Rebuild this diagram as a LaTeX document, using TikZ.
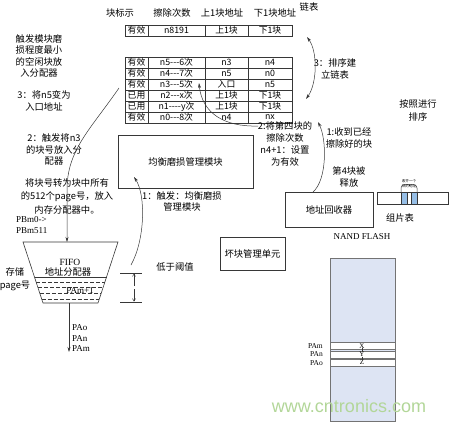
\documentclass[tikz,border=0pt]{standalone}
\usepackage{fontspec}
\setmainfont{Noto Sans CJK SC}
\newfontfamily\lat{Liberation Serif}
\newfontfamily\wmf{Liberation Sans}
\usetikzlibrary{arrows.meta}
\definecolor{ink}{RGB}{55,55,55}
\definecolor{nandblue}{RGB}{221,228,243}
\definecolor{barblue}{RGB}{150,190,230}
\definecolor{wmgreen}{RGB}{178,214,152}
\begin{document}
\begin{tikzpicture}[x=1pt,y=-1pt,
  every node/.style={inner sep=0pt, align=center, text=black},
  zh/.style={font=\fontsize{9.3}{11.5}\selectfont},
  tb/.style={font=\fontsize{8.8}{10}\selectfont},
  la/.style={font=\lat\fontsize{9}{10.5}\selectfont},
  sm/.style={font=\lat\fontsize{7}{8}\selectfont},
  ln/.style={draw=ink, line width=0.5pt},
  box/.style={draw=ink, line width=0.6pt},
  arr/.style={ln, -{Stealth[length=5pt,width=3pt]}},
  darr/.style={ln, {Stealth[length=5pt,width=3pt]}-{Stealth[length=5pt,width=3pt]}},
  sarr/.style={ln, -{Straight Barb[length=2.5pt,width=3pt]}}
]
\useasboundingbox (0,0) rectangle (450,423);

% ---- header labels
\node[zh] (h1) at (120,13) {块标示};
\node[zh] (h2) at (172,13) {擦除次数};
\node[zh] (h3) at (222,13) {上1块地址};
\node[zh] (h4) at (275,13) {下1块地址};
\node[zh] (h5) at (309,7) {链表};

% ---- tables
\draw[ln] (125,25) rectangle (292,36);
\foreach \x in {148,205,248} \draw[ln] (\x,25) -- (\x,36);
\draw[ln] (125,57) rectangle (292,123);
\foreach \y in {68,79,90,101,112} \draw[ln] (125,\y) -- (292,\y);
\foreach \x in {148,205,248} \draw[ln] (\x,57) -- (\x,123);

\foreach \y/\a/\b/\c/\d [count=\i] in {
  30.5/有效/n8191/上1块/下1块,
  62.5/有效/n5-{}-{}-6次/n3/n4,
  73.5/有效/n4-{}-{}-7次/n5/n0,
  84.5/有效/n3-{}-{}-5次/入口/n5,
  95.5/已用/n2-{}-{}-x次/上1块/下1块,
  106.5/已用/n1-{}-{}-{}-y次/上1块/下1块,
  117.5/有效/n0-{}-{}-8次/n4/nx} {
  \node[tb] (r\i-1) at (136.5,\y) {\a};
  \node[tb] (r\i-2) at (176.5,\y) {\b};
  \node[tb] (r\i-3) at (226.5,\y) {\c};
  \node[tb] (r\i-4) at (270,\y) {\d};
}

% ---- left texts
\node[zh] (t1) at (39,56) {触发模块磨\\损程度最小\\的空闲块放\\入分配器};
\node[zh] (t3) at (44,101) {3：将n5变为\\入口地址};
\node[zh] (t2) at (54,149.5) {2：触发将n3\\的块号放入分\\配器};
\node[zh, font=\fontsize{9.3}{13.5}\selectfont] (t4) at (67,196) {将块号转为块中所有\\的512个page号，放入\\内存分配器中。};
\node[la, anchor=west, align=left] (pbm) at (16,225) {PBm0->\\PBm511};
\node[zh, font=\fontsize{9.3}{13}\selectfont] (store) at (15,279) {存储\\page号};

% ---- right texts
\node[zh, font=\fontsize{9.3}{12}\selectfont] (lbl2) at (285,144) {2:将第四块的\\擦除次数\\n4+1：设置\\为有效};
\node[zh] (lbl1) at (349,138) {1:收到已经\\擦除好的块};
\node[zh, font=\fontsize{9.3}{12}\selectfont] (rel) at (349,177) {第4块被\\释放};
\node[zh] (sort3) at (335,69) {3：排序建\\立链表};
\node[zh, font=\fontsize{9.3}{13}\selectfont] (sortby) at (418,110) {按照进行\\排序};
\node[zh] (trig1) at (182,201.5) {1：触发：均衡磨损\\管理模块};
\node[zh] (low) at (175,267) {低于阈值};
\node[zh] (fraglbl) at (400,218) {组片表};
\node[la] (nandlbl) at (362,237) {NAND FLASH};

% ---- boxes
\node[box, minimum width=135pt, minimum height=53pt, zh] (bal) at (185.5,161.5) {均衡磨损管理模块};
\node[box, minimum width=65pt, minimum height=33pt, zh] (bad) at (252.5,253.5) {坏块管理单元};
\node[box, minimum width=88pt, minimum height=35pt, zh] (recv) at (329,209.5) {地址回收器};
\node[box, minimum width=71pt, minimum height=12pt] (frag) at (412.5,198) {};
\fill[barblue, draw=ink, line width=0.4pt] (401,192) rectangle (407,204);
\fill[barblue, draw=ink, line width=0.4pt] (411,192) rectangle (417,204);
\draw[ln] (401,192) -- (401,188) to[out=90,in=180] (404.5,184.5) -- (413.5,184.5) to[out=0,in=90] (417,188) -- (417,192);
\draw[ln] (409,184.5) -- (409,186);
\node[font=\fontsize{3.6}{4.5}\selectfont] (fragnote) at (409,183.5) {收齐一个\\块的地址};

% ---- NAND flash
\node[draw=ink!70, fill=nandblue, line width=0.5pt, minimum width=65pt, minimum height=163pt] (nand) at (362.5,339.5) {};
\foreach \a/\b in {342/349.5, 351/358, 359.5/366}
  \draw[draw=ink!70, fill=white, line width=0.5pt] (330,\a) rectangle (395,\b);
\node[sm] (px) at (362,346) {X};
\node[sm] (py) at (362,354.5) {Y};
\node[sm] (pz) at (362,362.5) {Z};
\draw[ln, line width=0.3pt] (px.south) to[out=-60,in=60] (py.north);
\draw[ln, line width=0.3pt] (py.south) to[out=-120,in=120] (pz.north);
\node[sm, anchor=east, align=right, font=\lat\fontsize{7.5}{8.2}\selectfont] (pal) at (323,354.5) {PAm\\PAn\\PAo};

% ---- FIFO
\draw[box] (23,242) -- (118,242) -- (98,303) -- (43,303) -- cycle;
\node[la, font=\lat\fontsize{9.5}{10}\selectfont] (fifo) at (70,262) {FIFO};
\node[zh] (alloc) at (68,271.5) {地址分配器};
\draw[ln] (34.5,277) -- (106.5,277);
\draw[ln, dashed, dash pattern=on 4pt off 2pt] (36.1,282) -- (104.9,282);
\draw[ln, dashed, dash pattern=on 4pt off 2pt] (38.1,287.5) -- (102.9,287.5);
\draw[ln, dashed, dash pattern=on 4pt off 2pt] (39.9,293.5) -- (101.1,293.5);
\draw[ln, dashed, dash pattern=on 4pt off 2pt] (41.7,299) -- (99.3,299);
\node[la] (pam1) at (80,290.5) {PAm+1};
\coordinate (fifotop) at (67,242);
\coordinate (fifobot) at (69,303);
\coordinate (outend) at (69,352);
\draw[arr] (fifobot) -- (outend);
\node[la, anchor=west, align=left, font=\lat\fontsize{9}{10.5}\selectfont] (paout) at (72,338.5) {PAo\\PAn\\PAm};

% threshold marker
\coordinate (thrA) at (120,273);
\coordinate (thrB) at (142,273);
\coordinate (thrC) at (120,302);
\coordinate (thrD) at (142,302);
\draw[ln] (thrA) -- (thrB);
\draw[ln] (thrC) -- (thrD);
\coordinate (thrT) at (134,273.5);
\coordinate (thrM1) at (134,286);
\coordinate (thrM2) at (134,289);
\coordinate (thrBt) at (134,301.5);
\draw[sarr] (thrM1) -- (thrT);
\draw[sarr] (thrM2) -- (thrBt);

% ---- connectors
\coordinate (tabexit) at (119,88);
\draw[arr] (tabexit) .. controls (90,130) and (67,150) .. (67,190) -- (fifotop);

\coordinate (thrstart) at (131,265);
\coordinate (balhit) at (134,177);
\draw[arr] (thrstart) .. controls (145,240) and (146,195) .. (balhit);

\coordinate (lbl2start) at (258,126);
\coordinate (n3tip) at (199,83);
\draw[arr] (lbl2start) .. controls (224,127) and (202,113) .. (n3tip);

\coordinate (recvtop) at (313,192);
\coordinate (freetip) at (318,122);
\draw[arr] (recvtop) .. controls (327,180) and (327,140) .. (freetip);

\coordinate (sortA) at (307,37);
\coordinate (sortB) at (306,99);
\draw[darr] (sortA) .. controls (318,52) and (317,84) .. (sortB);

% ---- watermark
\node[font=\wmf\fontsize{18}{18}\selectfont, text=wmgreen] (wm) at (349,406) {www.cntronics.com};
\end{tikzpicture}
\end{document}
